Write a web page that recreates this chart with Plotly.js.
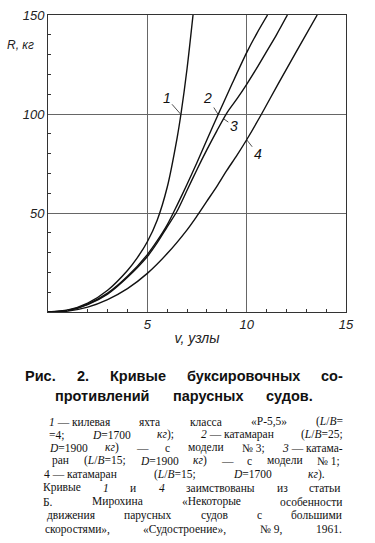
<!DOCTYPE html>
<html><head><meta charset="utf-8">
<script src="https://cdn.plot.ly/plotly-3.0.1.min.js"></script>
<style>html,body{margin:0;padding:0;background:#fff;}#chart{width:375px;height:543px;}</style>
</head><body><div id="chart"></div>
<script>
// ---- data (v in knots, R in kg) ----
const speed1  = [0, 1, 2, 3, 4, 4.5, 5, 5.5, 6, 6.5, 6.7, 7.0, 7.3];
const resist1 = [0, 1, 4.5, 11, 21, 27.5, 35.5, 46.5, 63, 88, 100.5, 123, 150];
const speed2  = [0, 1, 2, 3, 4, 5, 5.5, 6, 6.5, 7, 7.5, 8, 8.6, 9.3, 10, 10.5, 11.05];
const resist2 = [0, 0.8, 4, 9.5, 18, 29, 36, 44, 54, 64.5, 75.5, 87, 100.5, 116, 131, 140.5, 150];
const speed3  = [0, 1, 2, 3, 4, 5, 5.5, 6, 6.5, 7, 7.5, 8, 8.5, 9, 9.5, 10, 10.5, 11, 11.5, 12.05];
const resist3 = [0, 0.7, 3.7, 9, 17.5, 28, 35, 43, 51, 61.5, 72, 82, 91.5, 100.5, 107.5, 115, 123, 131.5, 140, 150];
const speed4  = [0, 1, 2, 3, 4, 5, 6, 7, 7.5, 8, 8.5, 9, 9.5, 10, 10.75, 11.6, 12.5, 13.55];
const resist4 = [0, 0.5, 2.5, 6.3, 11.8, 19.5, 29.5, 41.5, 48.5, 56, 63.5, 71.5, 79, 87, 100, 115.5, 131.5, 150];
const curveNames = ['1', '2', '3', '4'];

const xTickVals = [5, 10, 15];
const xTickText = ['5', '10', '15'];
const yTickVals = [50, 100, 150];
const yTickText = ['50', '100', '150'];
const xMinorVals = [1,2,3,4,6,7,8,9,11,12,13,14];
const yMinorVals = [10,20,30,40,60,70,80,90,110,120,130,140];

const xTitle = 'v, узлы';
const yTitle = 'R, кг';

const headLines = [
  ['Рис.', '2.', 'Кривые', 'буксировочных', 'со-'],
  ['противлений', 'парусных', 'судов.']
];
const bodyLines = [
  ['<i>1</i> — килевая', 'яхта', 'класса', '«Р-5,5»', '(<i>L</i>/<i>B</i>='],
  ['=4;', '<i>D</i>=1700', '<i>кг</i>);', '<i>2</i> — катамаран', '(<i>L</i>/<i>B</i>=25;'],
  ['<i>D</i>=1900', '<i>кг</i>)', '—', 'с', 'модели', '№ 3;', '<i>3</i> — катама-'],
  ['ран', '(<i>L</i>/<i>B</i>=15;', '<i>D</i>=1900', '<i>кг</i>)', '—', 'с', 'модели', '№ 1;'],
  ['4 — катамаран', '(<i>L</i>/<i>B</i>=15;', '<i>D</i>=1700', '<i>кг</i>).'],
  ['Кривые', '<i>1</i>', 'и', '<i>4</i>', 'заимствованы', 'из', 'статьи'],
  ['Б.', 'Мирохина', '«Некоторые', 'особенности'],
  ['движения', 'парусных', 'судов', 'с', 'большими'],
  ['скоростями»,', '«Судостроение»,', '№ 9,', '1961.']
];

// ---- layout geometry (pixels) ----
const W = 375, H = 543;
const M = {l: 48, r: 29, t: 15, b: 231};
const PW = W - M.l - M.r, PH = H - M.t - M.b;
const px2x = p => (p - M.l) / PW;
const py2y = p => (H - M.b - p) / PH;

const headPos = [{x0: 25, x1: 343, y: 376}, {x0: 55, x1: 313, y: 396}];
const bodyPos = [
  {x0: 49, x1: 343, y: 421.5}, {x0: 49, x1: 343, y: 434.5}, {x0: 49, x1: 342, y: 447.5},
  {x0: 52, x1: 340, y: 460.5}, {x0: 44, x1: 325, y: 474}, {x0: 43, x1: 341, y: 487.5},
  {x0: 43, x1: 342, y: 501.5}, {x0: 47, x1: 342, y: 515}, {x0: 45, x1: 342, y: 529}
];

const cv = document.createElement('canvas').getContext('2d');
function wordWidth(word, size, family, weight) {
  let w = 0, it = false;
  word.split(/(<i>|<\/i>)/).forEach(p => {
    if (p === '<i>') { it = true; return; }
    if (p === '</i>') { it = false; return; }
    if (!p) return;
    cv.font = (it ? 'italic ' : '') + weight + ' ' + size + 'px ' + family;
    w += cv.measureText(p).width;
  });
  return w;
}
function justify(words, pos, font, canvasFamily) {
  const ws = words.map(w => wordWidth(w, font.size, canvasFamily, font.weight || 'normal'));
  const total = ws.reduce((a, b) => a + b, 0);
  const gap = words.length > 1 ? (pos.x1 - pos.x0 - total) / (words.length - 1) : 0;
  let x = pos.x0;
  return words.map((w, i) => {
    const a = {text: w, x: px2x(x), y: py2y(pos.y), xref: 'paper', yref: 'paper',
      xanchor: 'left', yanchor: 'middle', showarrow: false, font: font,
      borderpad: 0, borderwidth: 0};
    x += ws[i] + gap;
    return a;
  });
}

const headFont = {family: 'Liberation Sans, Arial, sans-serif', size: 14.5, weight: 700, color: '#111'};
const bodyFont = {family: 'Liberation Serif, Times New Roman, serif', size: 11.5, color: '#111'};

let annotations = [];
headLines.forEach((l, i) => { annotations = annotations.concat(justify(l, headPos[i], headFont, "'Liberation Sans'")); });
bodyLines.forEach((l, i) => { annotations = annotations.concat(justify(l, bodyPos[i], bodyFont, "'Liberation Serif'")); });

const labelFont = {family: 'Liberation Sans, Arial, sans-serif', size: 14, style: 'italic', color: '#111'};
const labelSpots = [
  {x: 6.67, y: 100, ax: -14, ay: -16},
  {x: 8.55, y: 100, ax: -10, ay: -16},
  {x: 8.85, y: 97.5, ax: 10, ay: 7},
  {x: 10.0, y: 87, ax: 11, ay: 14}
];
curveNames.forEach((n, i) => {
  const s = labelSpots[i];
  annotations.push({text: n, x: s.x, y: s.y, xref: 'x', yref: 'y', ax: s.ax, ay: s.ay,
    showarrow: true, arrowhead: 0, arrowwidth: 0.8, arrowcolor: '#222', standoff: 0, font: labelFont});
});
annotations.push({text: yTitle, x: px2x(36), y: py2y(45), xref: 'paper', yref: 'paper',
  xanchor: 'right', yanchor: 'middle', showarrow: false,
  font: {family: 'Liberation Sans, Arial, sans-serif', size: 12, style: 'italic', color: '#222'}});

const series = [[speed1, resist1], [speed2, resist2], [speed3, resist3], [speed4, resist4]];
const traces = series.map((s, i) => ({
  x: s[0], y: s[1], type: 'scatter', mode: 'lines', name: curveNames[i],
  line: {color: '#111', width: 1.4, shape: 'spline', smoothing: 0.8},
  showlegend: false, hoverinfo: 'skip'
}));

const tickFont = {family: 'Liberation Sans, Arial, sans-serif', size: 13, style: 'italic', color: '#222'};
const layout = {
  width: W, height: H, margin: M,
  paper_bgcolor: '#fff', plot_bgcolor: '#fff', showlegend: false,
  xaxis: {
    range: [0, 15], tickmode: 'array', tickvals: xTickVals, ticktext: xTickText,
    ticks: '', showgrid: true, gridcolor: '#666', gridwidth: 1, zeroline: false,
    showline: true, linecolor: '#333', linewidth: 1, mirror: true,
    tickfont: tickFont, fixedrange: true,
    minor: {tickmode: 'array', tickvals: xMinorVals, ticks: 'inside', ticklen: 3, tickcolor: '#333', showgrid: false},
    title: {text: xTitle, standoff: 2, font: {family: 'Liberation Sans, Arial, sans-serif', size: 14, style: 'italic', color: '#222'}}
  },
  yaxis: {
    range: [0, 150], tickmode: 'array', tickvals: yTickVals, ticktext: yTickText,
    ticks: '', showgrid: true, gridcolor: '#666', gridwidth: 1, zeroline: false,
    showline: true, linecolor: '#333', linewidth: 1, mirror: true,
    tickfont: tickFont, fixedrange: true,
    minor: {tickmode: 'array', tickvals: yMinorVals, ticks: 'inside', ticklen: 3, tickcolor: '#333', showgrid: false}
  },
  annotations: annotations
};
Plotly.newPlot('chart', traces, layout, {staticPlot: true, displayModeBar: false});
</script>
</body></html>
